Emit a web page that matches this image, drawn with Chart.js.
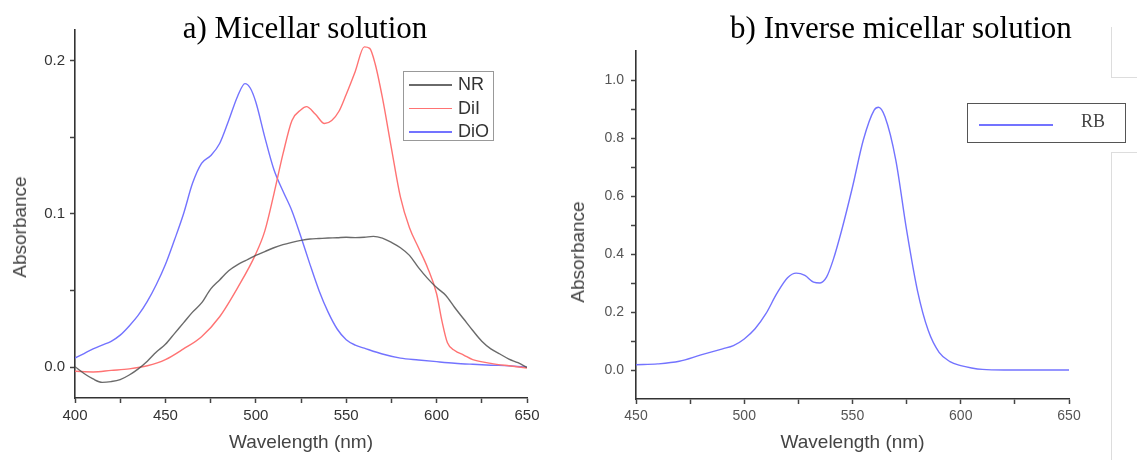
<!DOCTYPE html>
<html>
<head>
<meta charset="utf-8">
<script src="https://cdn.jsdelivr.net/npm/chart.js@4.4.0/dist/chart.umd.min.js"></script>
<style>
body { margin:0; background:#fff; width:1137px; height:460px; position:relative; overflow:hidden; font-family:"Liberation Sans", Arial, sans-serif; }
#chartA { position:absolute; left:0; top:0; }
#chartB { position:absolute; left:560px; top:0; }
.ttl { position:absolute; top:10px; line-height:36px; font-family:"Liberation Serif", "Times New Roman", serif; font-size:31px; color:#000; white-space:nowrap; transform:translateX(-50%); }
.ytl { position:absolute; font-size:19px; color:#444; white-space:nowrap; transform:translate(-50%,-50%) rotate(-90deg); }
.legA { position:absolute; left:403px; top:71px; width:89px; height:68px; border:1px solid #999; }
.legA .row { position:absolute; left:5px; width:84px; height:22px; font-size:18px; color:#333; }
.legA .ln { position:absolute; left:0; top:11px; width:43px; height:1.5px; }
.legA .tx { position:absolute; left:49px; top:0; line-height:22px; }
.legB { position:absolute; left:967px; top:103px; width:157px; height:38px; border:1.5px solid #555; }
.legB .ln { position:absolute; left:11px; top:20px; width:74px; height:2px; }
.legB .tx { position:absolute; left:113px; top:7px; font-family:"Liberation Serif", serif; font-size:18px; color:#444; }
.frame { position:absolute; background:#ddd; }
</style>
</head>
<body>
<canvas id="chartA" width="560" height="460"></canvas>
<canvas id="chartB" width="577" height="460"></canvas>
<div class="ttl" style="left:305px">a) Micellar solution</div>
<div class="ttl" style="left:901px">b) Inverse micellar solution</div>
<div class="ytl" style="left:20px; top:227px">Absorbance</div>
<div class="ytl" style="left:578px; top:252px">Absorbance</div>
<div class="frame" style="left:1111px; top:27px; width:1px; height:50px"></div>
<div class="frame" style="left:1111px; top:77px; width:26px; height:1px"></div>
<div class="frame" style="left:1111px; top:152px; width:26px; height:1px"></div>
<div class="frame" style="left:1111px; top:152px; width:1px; height:308px"></div>
<div class="legA" id="legA"></div>
<div class="legB" id="legB"></div>
<script>
Chart.defaults.font.family = "'Liberation Sans', Arial, sans-serif";

// a) Micellar solution
var nrWl  = [400,405,410,415,420,425,430,435,440,445,450,455,460,465,470,475,480,485,490,495,500,505,510,515,520,525,530,535,540,545,550,555,560,565,570,575,580,585,590,595,600,605,610,615,620,625,630,635,640,645,650];
var nrAbs = [0.0004,-0.004,-0.0076,-0.0098,-0.0093,-0.008,-0.005,-0.001,0.004,0.010,0.015,0.022,0.029,0.036,0.042,0.051,0.057,0.063,0.067,0.070,0.073,0.0755,0.078,0.080,0.0815,0.0828,0.0837,0.084,0.0843,0.0845,0.0848,0.0846,0.0848,0.0854,0.0843,0.0815,0.078,0.073,0.065,0.058,0.052,0.047,0.039,0.0315,0.024,0.017,0.012,0.0087,0.0054,0.003,0.0];

var dilWl  = [400,410,420,430,440,450,460,470,480,490,500,505,510,515,520,525,528,533,538,542,546,550,555,560,563,566,570,575,580,585,590,595,600,603,606,610,615,620,630,640,650];
var dilAbs = [-0.0026,-0.003,-0.002,-0.001,0.001,0.005,0.012,0.020,0.033,0.052,0.074,0.089,0.113,0.139,0.161,0.168,0.170,0.165,0.159,0.161,0.167,0.178,0.193,0.209,0.208,0.198,0.176,0.143,0.111,0.091,0.078,0.065,0.048,0.030,0.016,0.011,0.008,0.005,0.0026,0.001,-0.0004];

var dioWl  = [400,405,410,415,420,425,430,435,440,445,450,455,460,465,470,475,480,485,490,494,497,500,505,510,515,520,525,530,535,540,545,550,555,560,570,580,590,600,610,620,630,640,650];
var dioAbs = [0.006,0.009,0.012,0.0145,0.017,0.021,0.027,0.034,0.043,0.054,0.067,0.083,0.100,0.120,0.133,0.138,0.146,0.161,0.177,0.185,0.182,0.173,0.150,0.129,0.115,0.102,0.085,0.067,0.050,0.036,0.025,0.018,0.0145,0.0125,0.0087,0.006,0.0048,0.0037,0.0027,0.002,0.0014,0.001,0.0];

var seriesA = ['NR', 'DiI', 'DiO'];
var colorsA = ['rgba(80,80,80,0.85)', 'rgb(255,115,115)', 'rgb(115,115,255)'];
var xTicksA  = [400,425,450,475,500,525,550,575,600,625,650];
var xLabelsA = ['400','','450','','500','','550','','600','','650'];
var yTicksA  = [0,0.05,0.1,0.15,0.2];
var yLabelsA = ['0.0','','0.1','','0.2'];

// b) Inverse micellar solution
var rbWl  = [450,460,470,480,490,495,500,505,510,515,520,524,528,532,535,538,541,545,550,555,560,562,565,570,575,580,585,590,595,600,605,610,620,630,640,650];
var rbAbs = [0.018,0.021,0.030,0.052,0.073,0.084,0.107,0.142,0.194,0.263,0.318,0.334,0.326,0.303,0.300,0.320,0.378,0.482,0.631,0.793,0.896,0.906,0.873,0.724,0.482,0.274,0.136,0.061,0.029,0.015,0.007,0.002,0.0,0.0,0.0,0.0];

var seriesB = ['RB'];
var colorsB = ['rgb(115,115,255)'];
var xTicksB  = [450,475,500,525,550,575,600,625,650];
var xLabelsB = ['450','','500','','550','','600','','650'];
var yTicksB  = [0,0.1,0.2,0.3,0.4,0.5,0.6,0.7,0.8,0.9,1.0];
var yLabelsB = ['0.0','','0.2','','0.4','','0.6','','0.8','','1.0'];

function makeChart(id, sets, o) {
    return new Chart(document.getElementById(id), {
        type: 'line',
        data: {
            datasets: sets.map(function(s) {
                return {
                    label: s.label,
                    data: s.wl.map(function(w, i) { return {x: w, y: s.abs[i]}; }),
                    borderColor: s.color,
                    borderWidth: 1.4,
                    pointRadius: 0,
                    fill: false,
                    cubicInterpolationMode: 'monotone'
                };
            })
        },
        options: {
            responsive: false,
            animation: false,
            devicePixelRatio: 1,
            layout: { padding: o.pad },
            plugins: { legend: { display: false }, tooltip: { enabled: false } },
            scales: {
                x: {
                    type: 'linear', min: o.xMin, max: o.xMax,
                    afterBuildTicks: function(sc) { sc.ticks = o.xTicks.map(function(v) { return {value: v}; }); },
                    afterFit: function(sc) { sc.height = o.xH; },
                    ticks: { autoSkip: false, maxRotation: 0, padding: 4, color: o.tickColor, font: { size: o.tickSize },
                             callback: function(v, i) { return o.xLabels[i]; } },
                    grid: { drawOnChartArea: false, drawTicks: true, tickLength: 5, tickColor: '#444', tickWidth: 1.5 },
                    border: { display: true, color: '#333', width: 1.6 },
                    title: { display: true, text: 'Wavelength (nm)', color: '#444', font: { size: 19 }, padding: { top: 4, bottom: 4 } }
                },
                y: {
                    type: 'linear', min: o.yMin, max: o.yMax,
                    afterBuildTicks: function(sc) { sc.ticks = o.yTicks.map(function(v) { return {value: v}; }); },
                    afterFit: function(sc) { sc.width = o.yW; },
                    ticks: { autoSkip: false, padding: o.yPad, color: o.tickColor, font: { size: o.tickSize },
                             callback: function(v, i) { return o.yLabels[i]; } },
                    grid: { drawOnChartArea: false, drawTicks: true, tickLength: 5, tickColor: '#444', tickWidth: 1.5 },
                    border: { display: true, color: '#333', width: 1.6 }
                }
            }
        }
    });
}

makeChart('chartA', [
    { label: seriesA[0], wl: nrWl,  abs: nrAbs,  color: colorsA[0] },
    { label: seriesA[1], wl: dilWl, abs: dilAbs, color: colorsA[1] },
    { label: seriesA[2], wl: dioWl, abs: dioAbs, color: colorsA[2] }
], { pad: {left: 0, right: 33, top: 30, bottom: 2}, xMin: 400, xMax: 650, yMin: -0.02, yMax: 0.22,
     xTicks: xTicksA, xLabels: xLabelsA, yTicks: yTicksA, yLabels: yLabelsA,
     xH: 60, yW: 75, yPad: 5, tickColor: '#333', tickSize: 15 });

makeChart('chartB', [
    { label: seriesB[0], wl: rbWl, abs: rbAbs, color: colorsB[0] }
], { pad: {left: 0, right: 68, top: 51, bottom: 2}, xMin: 450, xMax: 650, yMin: -0.1, yMax: 1.1,
     xTicks: xTicksB, xLabels: xLabelsB, yTicks: yTicksB, yLabels: yLabelsB,
     xH: 59, yW: 76, yPad: 7, tickColor: '#555', tickSize: 14 });

// legends built from the series names and colours
var legA = document.getElementById('legA');
seriesA.forEach(function(name, i) {
    var row = document.createElement('div');
    row.className = 'row';
    row.style.top = (1 + i * 23.5) + 'px';
    row.innerHTML = '<div class="ln" style="background:' + colorsA[i] + '"></div><div class="tx">' + name + '</div>';
    legA.appendChild(row);
});
var legB = document.getElementById('legB');
legB.innerHTML = '<div class="ln" style="background:' + colorsB[0] + '"></div><div class="tx">' + seriesB[0] + '</div>';
</script>
</body>
</html>
